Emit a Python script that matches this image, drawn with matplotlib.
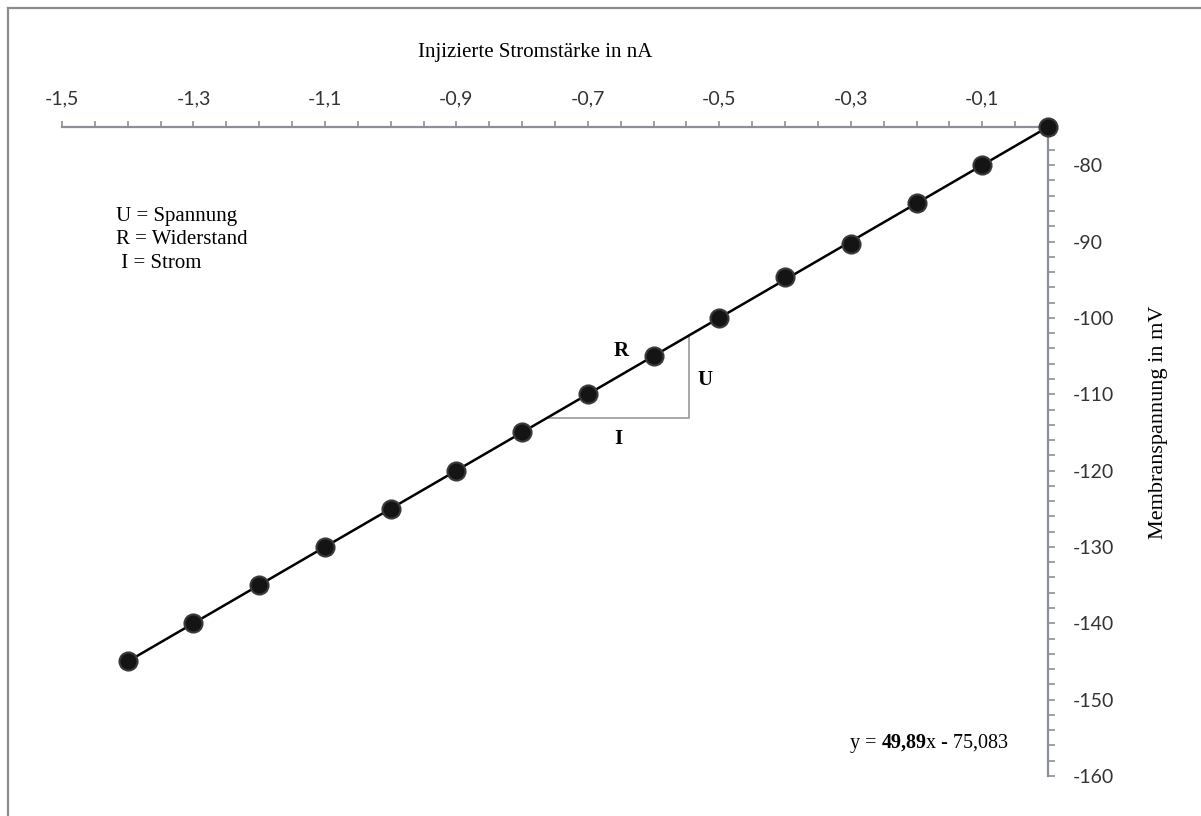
import numpy as np
import matplotlib
matplotlib.use("Agg")
import matplotlib.pyplot as plt
from matplotlib.lines import Line2D
from matplotlib.ticker import FixedLocator, MultipleLocator

# Measured current injections (nA) and resulting membrane potential (mV)
strom_nA = [-1.4, -1.3, -1.2, -1.1, -1.0, -0.9, -0.8, -0.7,
            -0.6, -0.5, -0.4, -0.3, -0.2, -0.1, 0.0]
spannung_mV = [-145.0, -140.0, -135.0, -130.0, -125.0, -120.0, -115.0, -110.0,
               -105.0, -100.0, -94.6, -90.3, -85.0, -80.0, -75.0]

x_tick_values = [-1.5, -1.3, -1.1, -0.9, -0.7, -0.5, -0.3, -0.1]
x_tick_labels = ["-1,5", "-1,3", "-1,1", "-0,9", "-0,7", "-0,5", "-0,3", "-0,1"]
y_tick_values = [-80, -90, -100, -110, -120, -130, -140, -150, -160]
y_tick_labels = ["-80", "-90", "-100", "-110", "-120", "-130", "-140", "-150", "-160"]

legend_lines = ["U = Spannung", "R = Widerstand", " I = Strom"]

# Slope triangle (Ohm's law illustration)
tri_x_right = -0.546
tri_y_bottom = -113.1

W, H = 1201, 816
fig = plt.figure(figsize=(W / 100, H / 100), dpi=100)
fig.patch.set_facecolor("white")

def fx(px):
    return px / W

def fy(py):
    return 1 - py / H

ax = fig.add_axes([fx(62), fy(776), fx(1048) - fx(62), fy(127) - fy(776)])
ax.set_xlim(-1.5, 0)
ax.set_ylim(-160, -75)
ax.patch.set_alpha(0)

axis_col = "#8a8f99"
for side in ("bottom", "left"):
    ax.spines[side].set_visible(False)
for side in ("top", "right"):
    ax.spines[side].set_color(axis_col)
    ax.spines[side].set_linewidth(1.6)

tick_font = dict(family="Lato", size=14, color="#333333")
serif = ["Liberation Serif", "DejaVu Serif"]

ax.xaxis.tick_top()
ax.xaxis.set_major_locator(FixedLocator(x_tick_values))
ax.xaxis.set_minor_locator(MultipleLocator(0.05))
ax.set_xticklabels(x_tick_labels, fontdict=tick_font)
ax.tick_params(axis="x", which="both", direction="out", length=4, width=1.2,
               color=axis_col, pad=10)

ax.yaxis.tick_right()
ax.yaxis.set_major_locator(FixedLocator(y_tick_values))
ax.yaxis.set_minor_locator(MultipleLocator(2))
ax.set_yticklabels(y_tick_labels, fontdict=tick_font)
ax.tick_params(axis="y", which="both", direction="out", length=5, width=1.2,
               color=axis_col, pad=13)

# Linear trend line through the measurements
slope, intercept = np.polyfit(strom_nA, spannung_mV, 1)
xs = np.array([min(strom_nA), max(strom_nA)])
ax.plot(xs, slope * xs + intercept, color="black", lw=1.8, zorder=3, clip_on=False)

ax.plot(strom_nA, spannung_mV, "o", ms=13, mfc="#141414", mec="#3a3a3a",
        mew=1.5, zorder=4, clip_on=False)

# Triangle: I (horizontal), U (vertical), R (slope)
tri_x_left = (tri_y_bottom - intercept) / slope
tri_y_top = slope * tri_x_right + intercept
ax.plot([tri_x_left, tri_x_right, tri_x_right],
        [tri_y_bottom, tri_y_bottom, tri_y_top],
        color="#9a9a9a", lw=1.2, zorder=2)
ax.text(-0.65, -104.3, "R", family=serif, weight="bold", size=15,
        ha="center", va="center")
ax.text(-0.522, -108.2, "U", family=serif, weight="bold", size=15,
        ha="center", va="center")
ax.text(-0.653, -115.9, "I", family=serif, weight="bold", size=15,
        ha="center", va="center")

# Axis titles
fig.text(fx(535), fy(53), "Injizierte Stromstärke in nA", family=serif,
         size=15, ha="center", va="center")
fig.text(fx(1158), fy(422), "Membranspannung in mV", family=serif,
         size=16, ha="center", va="center", rotation=90)

# Symbol legend
for i, line in enumerate(legend_lines):
    fig.text(fx(116), fy(216 + 24 * i), line, family=serif, size=15,
             ha="left", va="center")

# Regression equation with bold slope
eq_parts = [("y = ", "normal"), ("49,89", "bold"), ("x - 75,083", "normal")]
fig.canvas.draw()
renderer = fig.canvas.get_renderer()
x_px = 850
for txt, wt in eq_parts:
    t = fig.text(fx(x_px), fy(748), txt, family=serif, size=14.5,
                 weight=wt, ha="left", va="baseline")
    bb = t.get_window_extent(renderer=renderer)
    x_px += bb.width

# Frame lines along the top and left edges
fig.add_artist(Line2D([fx(8), 1], [fy(8), fy(8)], color="#8c8c8c", lw=1.6,
                      transform=fig.transFigure))
fig.add_artist(Line2D([fx(8), fx(8)], [fy(8), 0], color="#8c8c8c", lw=1.6,
                      transform=fig.transFigure))

fig.savefig("out.png", dpi=100, facecolor="white")
